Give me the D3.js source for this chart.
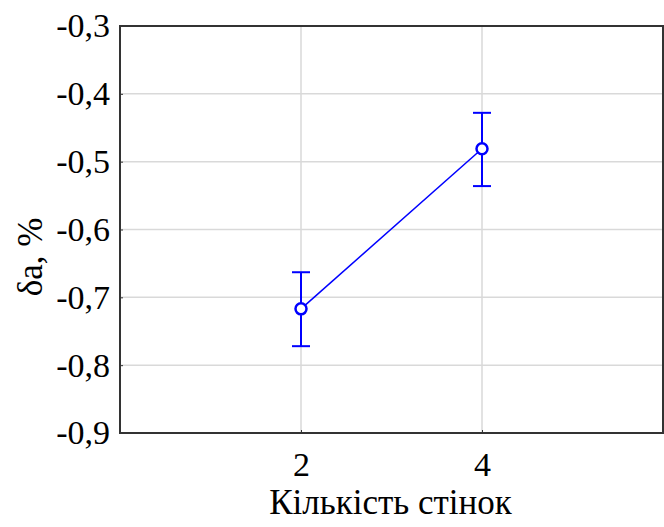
<!DOCTYPE html>
<html>
<head>
<meta charset="utf-8">
<script src="https://cdn.jsdelivr.net/npm/d3@7"></script>
<style>
  body { margin: 0; background: #fff; }
  svg { display: block; }
</style>
</head>
<body>
<div id="chart"></div>
<script>
// wall count vs deviation
const walls = [2, 4];
const means = [-0.717, -0.481];
const upper = [-0.663, -0.428];
const lower = [-0.772, -0.536];
const yTicks = [-0.9, -0.8, -0.7, -0.6, -0.5, -0.4, -0.3];
const xTicks = [2, 4];

const W = 664, H = 527;
const margin = { top: 26, right: 1, bottom: 94, left: 120 };
const width = W - margin.left - margin.right;
const height = H - margin.top - margin.bottom;
const font = 'Liberation Serif, Times New Roman, Times, Tinos, Noto Serif, DejaVu Serif, serif';
const fmt = d => d.toFixed(1).replace('.', ',');

const svg = d3.select('#chart').append('svg')
  .attr('width', W).attr('height', H);
const g = svg.append('g').attr('transform', `translate(${margin.left},${margin.top})`);

const x = d3.scaleLinear().domain([0, 6]).range([0, width]);
const y = d3.scaleLinear().domain([-0.9, -0.3]).range([height, 0]);

// grid
g.selectAll('.hgrid').data(yTicks.slice(1, -1)).enter().append('line')
  .attr('x1', 0).attr('x2', width)
  .attr('y1', d => y(d)).attr('y2', d => y(d))
  .attr('stroke', '#d9d9d9').attr('stroke-width', 1.5);
g.selectAll('.vgrid').data(xTicks).enter().append('line')
  .attr('x1', d => x(d)).attr('x2', d => x(d))
  .attr('y1', 0).attr('y2', height)
  .attr('stroke', '#d9d9d9').attr('stroke-width', 1.5);

// axes
const yAxis = g.append('g')
  .call(d3.axisLeft(y).tickValues(yTicks).tickFormat(fmt).tickSizeInner(-3).tickSizeOuter(0).tickPadding(10));
const xAxis = g.append('g').attr('transform', `translate(0,${height})`)
  .call(d3.axisBottom(x).tickValues(xTicks).tickFormat(d3.format('d')).tickSizeInner(-3).tickSizeOuter(0).tickPadding(19));
[yAxis, xAxis].forEach(a => {
  a.attr('font-family', font).attr('font-size', 34);
  a.select('.domain').remove();
  a.selectAll('line').attr('stroke', '#333');
  a.selectAll('text').attr('fill', '#000');
});

// frame
g.append('rect').attr('width', width).attr('height', height)
  .attr('fill', 'none').attr('stroke', '#333').attr('stroke-width', 2);

// series
const pts = walls.map((w, i) => ({ w, m: means[i], hi: upper[i], lo: lower[i] }));
g.append('path').datum(pts)
  .attr('d', d3.line().x(d => x(d.w)).y(d => y(d.m)))
  .attr('fill', 'none').attr('stroke', '#0000ff').attr('stroke-width', 1.5);

const eb = g.selectAll('.eb').data(pts).enter().append('g').attr('stroke', '#0000ff').attr('stroke-width', 2);
eb.append('line').attr('x1', d => x(d.w)).attr('x2', d => x(d.w))
  .attr('y1', d => y(d.hi)).attr('y2', d => y(d.lo));
eb.append('line').attr('x1', d => x(d.w) - 9).attr('x2', d => x(d.w) + 9)
  .attr('y1', d => y(d.hi)).attr('y2', d => y(d.hi));
eb.append('line').attr('x1', d => x(d.w) - 9).attr('x2', d => x(d.w) + 9)
  .attr('y1', d => y(d.lo)).attr('y2', d => y(d.lo));

g.selectAll('.pt').data(pts).enter().append('circle')
  .attr('cx', d => x(d.w)).attr('cy', d => y(d.m)).attr('r', 5.5)
  .attr('fill', '#fff').attr('stroke', '#0000ff').attr('stroke-width', 2.5);

// titles
svg.append('text').attr('x', margin.left + width / 2 - 1).attr('y', 514)
  .attr('text-anchor', 'middle').attr('font-family', font).attr('font-size', 35)
  .text('Кількість стінок');
svg.append('text').attr('transform', `translate(42,257) rotate(-90)`)
  .attr('text-anchor', 'middle').attr('font-family', font).attr('font-size', 35)
  .text('δа, %');
</script>
</body>
</html>
